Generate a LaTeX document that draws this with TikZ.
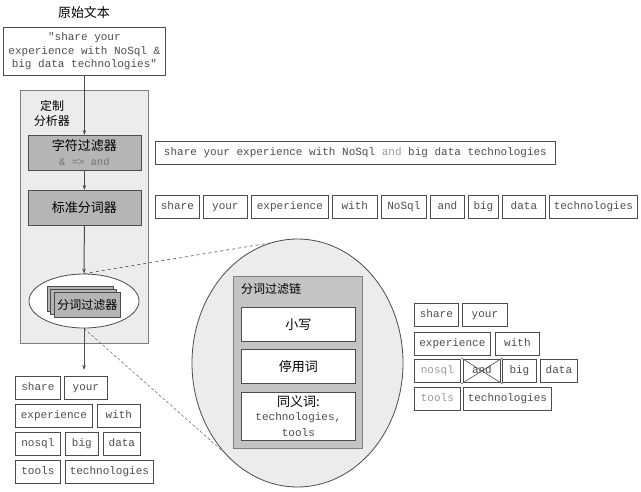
\documentclass[tikz,border=0pt]{standalone}
\usepackage{fontspec}
\setmonofont{Liberation Mono}
\newfontfamily\cjk{Noto Sans CJK SC}
\usetikzlibrary{shapes.geometric,arrows.meta}
\newlength{\du}
\setlength{\du}{1pt}
\newcommand{\monotxt}{\ttfamily\fontsize{11}{13.5}\selectfont}
\newcommand{\cjktxt}{\cjk\fontsize{13}{16}\selectfont}
\newcommand{\cjksmall}{\cjk\fontsize{12}{15}\selectfont}
\definecolor{linecolor}{rgb}{0.30,0.30,0.30}
\definecolor{textcolor}{rgb}{0.30,0.30,0.30}
\definecolor{fadedcolor}{rgb}{0.60,0.60,0.60}
\definecolor{rulecolor}{rgb}{0.45,0.45,0.45}
\definecolor{panelcolor}{rgb}{0.925,0.925,0.925}
\definecolor{stagecolor}{rgb}{0.71,0.71,0.71}
\definecolor{chaincolor}{rgb}{0.77,0.77,0.77}
\tikzset{
  tok/.style={draw=linecolor, line width=0.8\du, inner sep=0pt, minimum height=23\du,
    text height=7.5\du, text depth=2.2\du,
    anchor=north west, font=\monotxt, text=textcolor},
  stage/.style={draw=linecolor, line width=0.8\du, fill=stagecolor, inner sep=0pt,
    anchor=north west, align=center, font=\cjktxt},
  filterbox/.style={draw=linecolor, line width=0.8\du, fill=white, inner sep=0pt,
    minimum width=114\du, anchor=north west, align=center, font=\cjktxt},
  flow/.style={draw=linecolor, line width=1\du, -{Stealth[length=5pt,width=3.5pt]}},
  zoomline/.style={draw=linecolor, line width=0.6\du}
}
\begin{document}
\begin{tikzpicture}
\pgftransformxscale{1.000000}
\pgftransformyscale{-1.000000}
\useasboundingbox (0\du,0\du) rectangle (641\du,491\du);
% original text
\node[font=\cjktxt] (origlbl) at (84\du,13\du) {原始文本};
\node[draw=linecolor, line width=0.8\du, inner sep=0pt, minimum width=162\du, minimum height=48\du,
  anchor=north west, align=center, font=\monotxt, text=textcolor] (orig) at (3\du,27\du)
  {"share your\\experience with NoSql \&\\big data technologies"};
% custom analyzer
\node[draw=gray, line width=0.8\du, fill=panelcolor, minimum width=128\du, minimum height=253\du,
  anchor=north west] (ana) at (20\du,90\du) {};
\node[font=\cjksmall, align=center, inner sep=0pt] (analbl) at (52\du,113\du) {定制\\分析器};
\node[stage, minimum width=113\du, minimum height=35\du] (cf) at (27.5\du,135\du)
  {字符过滤器\\[-1\du]{\ttfamily\fontsize{10.5}{12}\selectfont\color{rulecolor}\& => and}};
\node[stage, minimum width=113\du, minimum height=35\du] (st) at (27.5\du,190\du) {标准分词器};
\node[ellipse, draw=linecolor, line width=0.8\du, fill=white, inner sep=0pt,
  minimum width=110\du, minimum height=54\du] (tfe) at (84\du,301\du) {};
\draw[draw=linecolor, line width=0.8\du, fill=stagecolor] (47\du,286\du) rectangle (113\du,311\du);
\draw[draw=linecolor, line width=0.8\du, fill=stagecolor] (50.5\du,289\du) rectangle (116.5\du,314\du);
\node[stage, minimum width=66\du, minimum height=25\du, font=\cjksmall] (tf) at (54\du,292\du) {分词过滤器};
% char filter and tokenizer output
\node[tok, minimum width=400\du] (cfout) at (155\du,141\du)
  {share your experience with NoSql {\color{fadedcolor}and} big data technologies};
\foreach \n/\x/\w in {share/155/44, your/203/44, experience/251/77, with/332/45, NoSql/381/45,
  and/430/34, big/468/30, data/502/43, technologies/549/88}
  \node[tok, minimum width=\w\du] (ts-\n) at (\x\du,195\du) {\n};
% token filter chain
\node[ellipse, draw=linecolor, line width=0.8\du, fill=panelcolor, inner sep=0pt,
  minimum width=211\du, minimum height=248\du] (bige) at (297.5\du,363\du) {};
\node[draw=gray, line width=0.8\du, fill=chaincolor, minimum width=129\du, minimum height=172\du,
  anchor=north west] (chain) at (233\du,276\du) {};
\node[font=\cjksmall, anchor=west, inner sep=0pt] (chainlbl) at (241\du,289\du) {分词过滤链};
\node[filterbox, minimum height=34\du] (lc) at (241\du,307\du) {小写};
\node[filterbox, minimum height=34\du] (sw) at (241\du,349\du) {停用词};
\node[filterbox, minimum height=48\du] (syn) at (241\du,392\du)
  {{\cjktxt 同义词:}\\[-2\du]{\monotxt\color{textcolor}technologies,}\\{\monotxt\color{textcolor}tools}};
% final tokens, left
\foreach \n/\x/\y/\w in {share/15/376/45, your/64/376/43, experience/15/404/77, with/97/404/43,
  nosql/15/432/45, big/65/432/33, data/103/432/37, tools/15/460/45, technologies/65/460/88}
  \node[tok, minimum width=\w\du] (lo-\n) at (\x\du,\y\du) {\n};
% final tokens, right
\foreach \n/\x/\y/\w in {share/414/303/44, your/462/303/45, experience/414/332/76, with/495/332/44,
  and/463/359/37, big/502/359/34, data/540/359/37, technologies/463/387/88}
  \node[tok, minimum width=\w\du] (sy-\n) at (\x\du,\y\du) {\n};
\node[tok, minimum width=46\du, text=fadedcolor] (sy-nosql) at (414\du,359\du) {nosql};
\node[tok, minimum width=46\du, text=fadedcolor] (sy-tools) at (414\du,387\du) {tools};
\draw[zoomline, shorten <=-2\du, shorten >=-2\du] (sy-and.north west) -- (sy-and.south east);
\draw[zoomline, shorten <=-2\du, shorten >=-2\du] (sy-and.north east) -- (sy-and.south west);
% flow
\coordinate (out) at (84\du,370\du);
\draw[flow] (orig.south) -- (cf.north);
\draw[flow] (cf.south) -- (st.north);
\draw[flow] (st.south) -- (tfe.north);
\draw[flow] (tfe.south) -- (out);
% zoom lines
\draw[zoomline, dashed] (tfe.north) -- (bige.103);
\draw[zoomline, densely dashed, line width=0.4\du] (tfe.south) -- (bige.230);
\end{tikzpicture}
\end{document}
